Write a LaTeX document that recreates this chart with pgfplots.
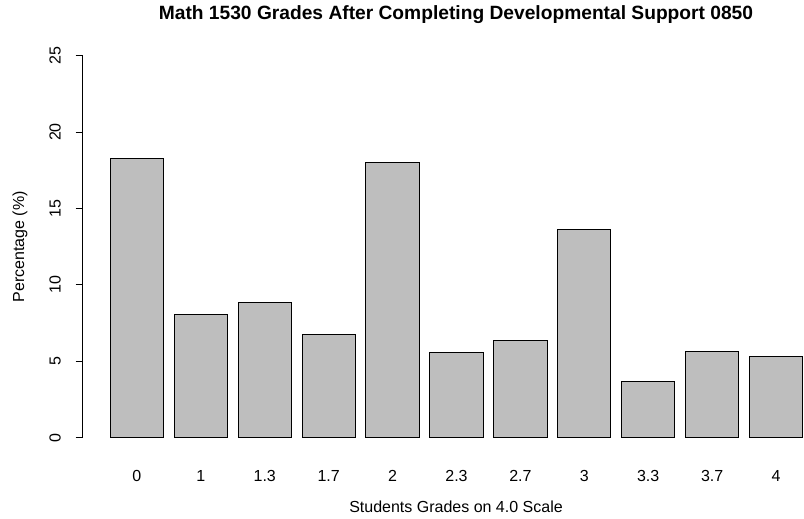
\documentclass[border=0pt]{standalone}
\usepackage{pgfplots}
\pgfplotsset{compat=1.18}
\usepackage{fontspec}
\setmainfont{Liberation Sans}
\definecolor{bargray}{HTML}{BEBEBE}
\begin{document}
\begin{tikzpicture}
\useasboundingbox (-82.6bp,-81.3bp) rectangle (721.4bp,437.7bp);
\begin{axis}[
  scale only axis, width=721.4bp, height=382bp,
  at={(0,0)}, anchor=south west,
  xmin=-0.32, xmax=13.225, ymin=0, ymax=25,
  axis y line*=left, axis x line*=bottom,
  x axis line style={draw=none},
  y axis line style={line width=1bp, black},
  xtick={0.7,1.9,3.1,4.3,5.5,6.7,7.9,9.1,10.3,11.5,12.7},
  xticklabels={0,1,1.3,1.7,2,2.3,2.7,3,3.3,3.7,4},
  xtick style={draw=none},
  ytick={0,5,10,15,20,25},
  ytick style={line width=1bp, black},
  tick align=outside, major tick length=7bp,
  font=\fontsize{16bp}{19bp}\selectfont,
  /pgf/number format/assume math mode=true,
  xticklabel style={anchor=base, yshift=-36.3bp},
  yticklabel style={xshift=-15bp, rotate=90, anchor=base},
  xlabel={Students Grades on 4.0 Scale},
  xlabel style={at={(axis description cs:0.5176,-0.195)}, anchor=base},
  ylabel={Percentage (\%)},
  ylabel style={at={(axis description cs:-0.08123,0.5)}, anchor=base, rotate=0},
  title={Math 1530 Grades After Completing Developmental Support 0850},
  title style={at={(axis description cs:0.5176,1.0804)}, anchor=base, font=\bfseries\fontsize{19.2bp}{23bp}\selectfont},
]
\addplot[ybar, bar width=1, fill=bargray, draw=black, line width=1bp] coordinates {
  (0.7,18.26) (1.9,8.05) (3.1,8.84) (4.3,6.74) (5.5,18.00) (6.7,5.56)
  (7.9,6.33) (9.1,13.61) (10.3,3.65) (11.5,5.61) (12.7,5.30)
};
\end{axis}
\end{tikzpicture}
\end{document}
